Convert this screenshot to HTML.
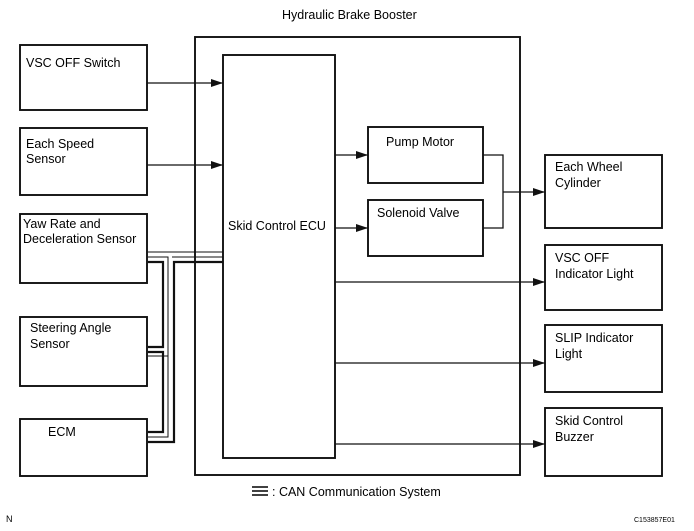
<!DOCTYPE html>
<html><head><style>
body{margin:0;background:#fff;}
svg{display:block;font-family:"Liberation Sans",sans-serif;}
text{font-size:12.5px;fill:#000;}
</style></head><body>
<svg width="694" height="531" viewBox="0 0 694 531">
<defs><marker id="a" markerWidth="12" markerHeight="8" refX="12" refY="4" orient="auto" markerUnits="userSpaceOnUse"><path d="M0,0 L12,4 L0,8 z" fill="#111"/></marker></defs>
<g fill="none" stroke="#111" stroke-width="1.9">
<rect x="195" y="37" width="325" height="438"/>
<rect x="223" y="55" width="112" height="403"/>
<rect x="20" y="45" width="127" height="65"/>
<rect x="20" y="128" width="127" height="67"/>
<rect x="20" y="214" width="127" height="69"/>
<rect x="20" y="317" width="127" height="69"/>
<rect x="20" y="419" width="127" height="57"/>
<rect x="368" y="127" width="115" height="56"/>
<rect x="368" y="200" width="115" height="56"/>
<rect x="545" y="155" width="117" height="73"/>
<rect x="545" y="245" width="117" height="65"/>
<rect x="545" y="325" width="117" height="67"/>
<rect x="545" y="408" width="117" height="68"/>
</g>
<g stroke="#111" stroke-width="1.3" fill="none">
<line x1="147" y1="83" x2="223" y2="83" marker-end="url(#a)"/>
<line x1="147" y1="165" x2="223" y2="165" marker-end="url(#a)"/>
<line x1="335" y1="155" x2="368" y2="155" marker-end="url(#a)"/>
<line x1="335" y1="228" x2="368" y2="228" marker-end="url(#a)"/>
<polyline points="483,155 503,155 503,228 483,228"/>
<line x1="503" y1="192" x2="545" y2="192" marker-end="url(#a)"/>
<line x1="335" y1="282" x2="545" y2="282" marker-end="url(#a)"/>
<line x1="335" y1="363" x2="545" y2="363" marker-end="url(#a)"/>
<line x1="335" y1="444" x2="545" y2="444" marker-end="url(#a)"/>
</g>
<g stroke="#111" fill="none">
<line x1="148" y1="252" x2="223" y2="252" stroke-width="1"/>
<polyline points="148,257 168,257 168,437 148,437" stroke-width="1"/>
<polyline points="223,257 172,257" stroke-width="1"/>
<polyline points="148,262 163,262 163,347 148,347" stroke-width="2.2"/>
<polyline points="148,352 163,352 163,432 148,432" stroke-width="2.2"/>
<polyline points="223,262 174,262 174,442 148,442" stroke-width="2.2"/>
<line x1="148" y1="356" x2="168" y2="356" stroke-width="1"/>
</g>
<text x="282" y="19">Hydraulic Brake Booster</text>
<text x="26" y="67">VSC OFF Switch</text>
<text x="26" y="148">Each Speed</text>
<text x="26" y="163">Sensor</text>
<text x="23" y="228">Yaw Rate and</text>
<text x="23" y="243">Deceleration Sensor</text>
<text x="30" y="332">Steering Angle</text>
<text x="30" y="348">Sensor</text>
<text x="48" y="436">ECM</text>
<text x="228" y="230">Skid Control ECU</text>
<text x="386" y="146">Pump Motor</text>
<text x="377" y="217">Solenoid Valve</text>
<text x="555" y="171">Each Wheel</text>
<text x="555" y="187">Cylinder</text>
<text x="555" y="262">VSC OFF</text>
<text x="555" y="278">Indicator Light</text>
<text x="555" y="342">SLIP Indicator</text>
<text x="555" y="358">Light</text>
<text x="555" y="425">Skid Control</text>
<text x="555" y="441">Buzzer</text>
<g stroke="#111" stroke-width="1.6"><line x1="252" y1="487" x2="268" y2="487"/><line x1="252" y1="491" x2="268" y2="491"/><line x1="252" y1="495" x2="268" y2="495"/></g>
<text x="272" y="496">:  CAN  Communication System</text>
<text x="6" y="522" style="font-size:9px">N</text>
<text x="634" y="522" style="font-size:7px">C153857E01</text>
</svg>
</body></html>
